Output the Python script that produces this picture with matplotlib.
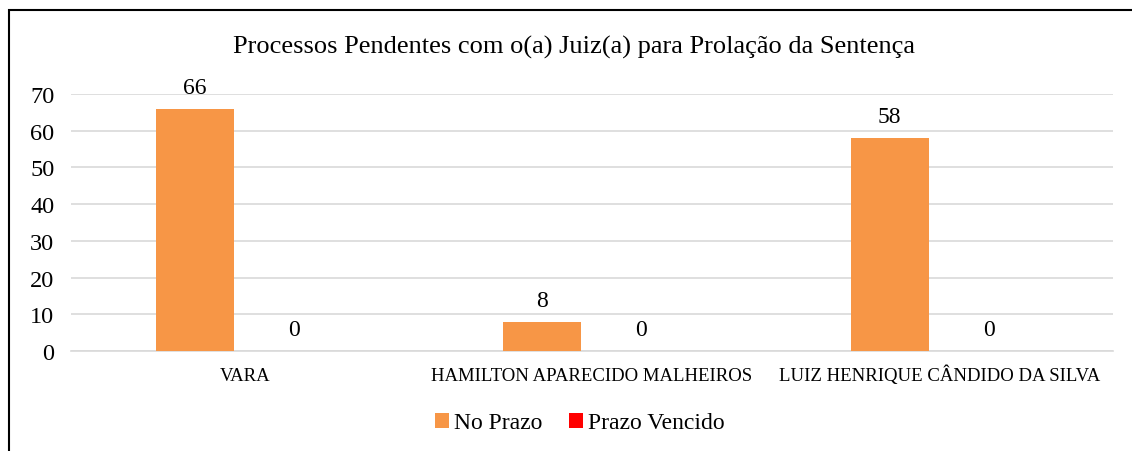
import numpy as np
import matplotlib.pyplot as plt
from matplotlib.patches import Rectangle

plt.rcParams['font.family'] = ['Liberation Serif', 'DejaVu Serif']

# Data
juizes = ['VARA', 'HAMILTON APARECIDO MALHEIROS', 'LUIZ HENRIQUE CÂNDIDO DA SILVA']
no_prazo = [66, 8, 58]
prazo_vencido = [0, 0, 0]

fig = plt.figure(figsize=(11.32, 4.52), dpi=100)
ax = fig.add_axes([0.0627, 0.2212, 0.9203, 0.5686])

x = np.arange(len(juizes))
w = 0.225
off = 0.1425
b1 = ax.bar(x - off, no_prazo, w, color='#f79646', label='No Prazo', zorder=3)
b2 = ax.bar(x + off, prazo_vencido, w, color='#ff0000', label='Prazo Vencido', zorder=3)

for bars in (b1, b2):
    for rect in bars:
        h = rect.get_height()
        ax.annotate(f'{h:g}', (rect.get_x() + rect.get_width() / 2, h),
                    xytext=(0, 8), textcoords='offset points',
                    ha='center', va='bottom', fontsize=17)

ax.set_xlim(-0.5, len(juizes) - 0.5)
ax.set_ylim(0, 70)
ax.set_yticks(range(0, 71, 10))
ax.set_xticks(x)
ax.set_xticklabels(juizes, fontsize=13.5, va='baseline')
ax.tick_params(axis='y', labelsize=17.5, length=0, pad=12)
ax.tick_params(axis='x', length=0, pad=21)
ax.grid(axis='y', color='#d9d9d9', linewidth=1.2, zorder=0)
for s in ['top', 'right', 'left']:
    ax.spines[s].set_visible(False)
ax.spines['bottom'].set_color('#d9d9d9')
ax.spines['bottom'].set_linewidth(1.2)

fig.text(0.507, 0.896, 'Processos Pendentes com o(a) Juiz(a) para Prolação da Sentença',
         ha='center', va='center', fontsize=19)

fig.legend(loc='center', bbox_to_anchor=(0.512, 0.062), ncol=2, frameon=False,
           fontsize=17, handlelength=0.6, handleheight=0.6, handletextpad=0.2,
           columnspacing=1.15)

# chart border (cropped at right and bottom)
fig.patches.append(Rectangle((9 / 1132, -0.1), 1.2, 1.1 - 11 / 452,
                             transform=fig.transFigure, fill=False,
                             edgecolor='black', linewidth=1.5))

fig.savefig('out.png', dpi=100)
